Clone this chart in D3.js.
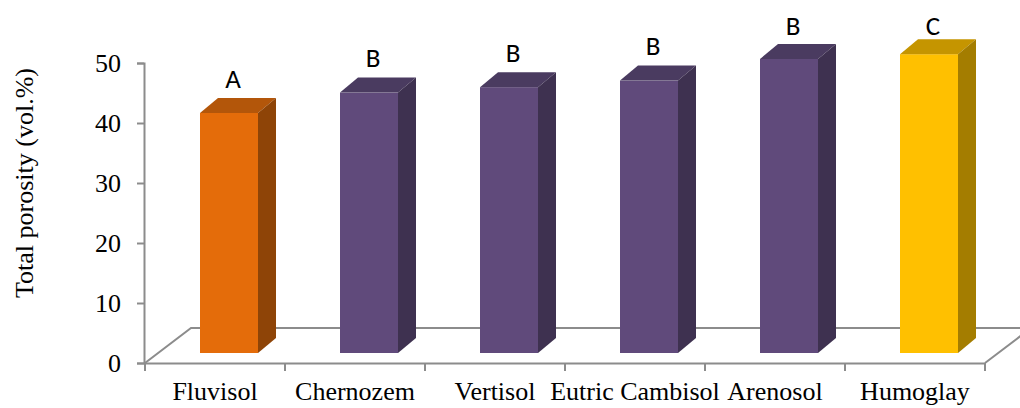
<!DOCTYPE html>
<html>
<head>
<meta charset="utf-8">
<script src="https://cdn.jsdelivr.net/npm/d3@7"></script>
<style>
  body { margin: 0; background: #fff; }
</style>
</head>
<body>
<div id="chart-area"></div>
<script>
// soil types and measured total porosity
var categories = ['Fluvisol', 'Chernozem', 'Vertisol', 'Eutric Cambisol', 'Arenosol', 'Humoglay'];
var porosity = [40.0, 43.4, 44.3, 45.4, 49.0, 49.8];
var groups = ['A', 'B', 'B', 'B', 'B', 'C'];
var yTicks = [0, 10, 20, 30, 40, 50];

var colors = {
    A: { front: '#e46c0a', top: '#b3560a', side: '#8e4407' },
    B: { front: '#604a7b', top: '#4a3b60', side: '#3e3150' },
    C: { front: '#ffc000', top: '#c59500', side: '#a47d00' }
};

var width = 1020, height = 408;
var serif = '"Liberation Serif", "Times New Roman", serif';
var svg = d3.select('#chart-area').append('svg')
            .attr('width', width)
            .attr('height', height);

var x = d3.scaleBand().domain(categories).range([145, 985]).padding(0);
var y = d3.scaleLinear().domain([0, 50]).range([363, 63]);

// floor depth and bar depth
var floorDx = 46, floorDy = -35;
var barShiftY = -10, barOff = 55, barW = 58, depthX = 18, depthY = -15;
var axisColor = '#8c8c8c';

// floor outline
var floor = svg.append('g').attr('stroke', axisColor).attr('stroke-width', 2).attr('fill', 'none');
floor.append('polyline')
    .attr('points', [[x.range()[0], y(0)], [x.range()[0] + floorDx, y(0) + floorDy],
                     [x.range()[1] + floorDx, y(0) + floorDy], [x.range()[1], y(0)]].join(' '));

// bars
var bars = svg.selectAll('g.bar').data(categories).enter().append('g').attr('class', 'bar');

bars.each(function(d, i) {
    var g = d3.select(this);
    var c = colors[groups[i]];
    var x0 = x(d) + barOff, x1 = x0 + barW;
    var yb = y(0) + barShiftY, yt = y(porosity[i]) + barShiftY;
    g.append('rect')
        .attr('x', x0).attr('y', yt)
        .attr('width', barW).attr('height', yb - yt)
        .attr('fill', c.front);
    g.append('polygon')
        .attr('points', [[x0, yt], [x0 + depthX, yt + depthY], [x1 + depthX, yt + depthY], [x1, yt]].join(' '))
        .attr('fill', c.top);
    g.append('polygon')
        .attr('points', [[x1, yt], [x1 + depthX, yt + depthY], [x1 + depthX, yb + depthY], [x1, yb]].join(' '))
        .attr('fill', c.side);
    g.append('text')
        .attr('x', x0 + barW / 2 + 4)
        .attr('y', Math.max(yt + depthY - 20, 25))
        .attr('text-anchor', 'middle')
        .attr('dominant-baseline', 'central')
        .attr('font-family', 'Carlito, Calibri, Lato, sans-serif')
        .attr('font-size', 27)
        .attr('fill', '#000')
        .text(groups[i]);
});

// front edge of floor with category ticks
var xAxis = svg.append('g').attr('transform', 'translate(0,' + y(0) + ')')
    .call(d3.axisBottom(x).tickSize(0).tickFormat(''));
xAxis.select('.domain').attr('stroke', axisColor).attr('stroke-width', 2);
xAxis.selectAll('.sep').data(d3.range(categories.length + 1)).enter().append('line')
    .attr('x1', (d) => { return 145 + d * x.bandwidth() })
    .attr('x2', (d) => { return 145 + d * x.bandwidth() })
    .attr('y1', 0).attr('y2', 8)
    .attr('stroke', axisColor).attr('stroke-width', 2);
xAxis.selectAll('.cat').data(categories).enter().append('text')
    .attr('x', (d) => { return x(d) + x.bandwidth() / 2 })
    .attr('y', 37)
    .attr('text-anchor', 'middle')
    .attr('font-family', serif)
    .attr('font-size', 26)
    .attr('fill', '#000')
    .text((d) => { return d });

// value axis
var yAxis = svg.append('g').attr('transform', 'translate(144,0)')
    .call(d3.axisLeft(y).tickValues(yTicks).tickSize(7).tickPadding(16));
yAxis.select('.domain').attr('stroke', axisColor).attr('stroke-width', 2);
yAxis.selectAll('.tick line').attr('stroke', axisColor).attr('stroke-width', 2);
yAxis.selectAll('.tick text')
    .attr('font-family', serif)
    .attr('font-size', 26)
    .attr('fill', '#000');

svg.append('text')
    .attr('transform', 'translate(33,183) rotate(-90)')
    .attr('text-anchor', 'middle')
    .attr('font-family', serif)
    .attr('font-size', 26)
    .attr('fill', '#000')
    .text('Total porosity (vol.%)');
</script>
</body>
</html>
